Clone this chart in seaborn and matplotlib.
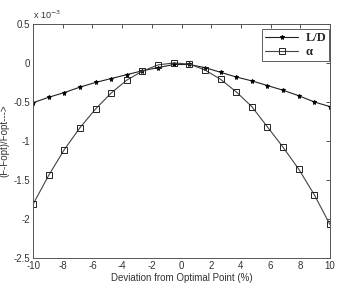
import numpy as np
import pandas as pd
import matplotlib
matplotlib.use("Agg")
import matplotlib.pyplot as plt
import seaborn as sns

# ---- data (units of 1e-3) ----
deviation = np.linspace(-10, 10, 20)
ld_vals = [-0.51, -0.44, -0.38, -0.31, -0.25, -0.20, -0.15, -0.10, -0.06, -0.02,
           -0.02, -0.06, -0.12, -0.18, -0.23, -0.29, -0.35, -0.42, -0.50, -0.56]
alpha_vals = [-1.81, -1.44, -1.11, -0.83, -0.59, -0.385, -0.22, -0.105, -0.025, 0.0,
              -0.015, -0.09, -0.21, -0.37, -0.56, -0.82, -1.08, -1.36, -1.69, -2.07]
yticks = [-2.5, -2, -1.5, -1, -0.5, 0, 0.5]
xticks = [-10, -8, -6, -4, -2, 0, 2, 4, 6, 8, 10]

df = pd.DataFrame({"x": deviation, "L/D": ld_vals, "alpha": alpha_vals})

sns.set_style("white")
plt.rcParams["font.family"] = ["Liberation Sans", "DejaVu Sans"]
plt.rcParams["axes.unicode_minus"] = False

fig = plt.figure(figsize=(3.38, 2.85), dpi=100)
ax = fig.add_axes([0.098, 0.095, 0.878, 0.821])

sns.lineplot(data=df, x="x", y="L/D", ax=ax, color="#222222", linewidth=0.8,
             marker="*", markersize=3.6, markeredgewidth=0.6,
             markerfacecolor="black", markeredgecolor="black", label="L/D")
sns.lineplot(data=df, x="x", y="alpha", ax=ax, color="#444444", linewidth=0.8,
             marker="s", markersize=5, markeredgewidth=0.7,
             markerfacecolor="none", markeredgecolor="#222222", label="α")

ax.set_xlim(-10, 10)
ax.set_ylim(-2.5, 0.5)
ax.set_xticks(xticks)
ax.set_yticks(yticks)
ax.set_yticklabels([f"{v:g}" for v in yticks])
ax.tick_params(direction="in", length=3, width=0.6, labelsize=7, colors="#333333",
               top=True, right=True, pad=2)
for s in ax.spines.values():
    s.set_color("#555555")
    s.set_linewidth(0.7)

ax.set_xlabel("Deviation from Optimal Point (%)", fontsize=7, color="#333333", labelpad=2)
ax.set_ylabel("(F-Fopt)/Fopt--->", fontsize=7, color="#333333", labelpad=3)
ax.text(0.0, 1.012, "x 10$^{-3}$", transform=ax.transAxes, fontsize=6.5,
        color="#333333", ha="left", va="bottom")

leg = ax.legend(loc="upper right", bbox_to_anchor=(0.998, 0.977), frameon=True,
                fancybox=False, edgecolor="#333333", borderpad=0.25,
                handlelength=2.6, handletextpad=0.6, labelspacing=0.15,
                borderaxespad=0.0, prop={"family": "Liberation Serif",
                                         "weight": "bold", "size": 9})
leg.get_frame().set_linewidth(0.7)

fig.savefig("out.png", dpi=100)
